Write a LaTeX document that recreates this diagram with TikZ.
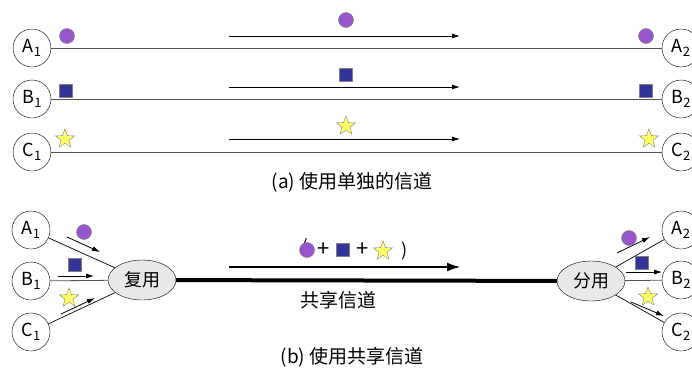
\documentclass[tikz,border=0pt]{standalone}
\usepackage{fontspec}
\setmainfont{Noto Sans CJK SC}
\usepackage{xcolor}
\definecolor{CPurple}{HTML}{9955CC}
\definecolor{CNavy}{HTML}{333399}
\definecolor{CYellow}{HTML}{FFFF66}
\definecolor{CLine}{HTML}{555555}
\definecolor{CMux}{HTML}{E8E8E8}
\usetikzlibrary{arrows.meta,positioning,shapes.geometric}
\newcommand{\stn}[2]{#1\raisebox{-0.45ex}{\fontsize{13}{13}\selectfont #2}}
\tikzstyle{stationNode}=[circle, draw, fill=white, thin, minimum size=38pt, inner sep=0pt,
  font=\fontsize{18}{18}\selectfont]
\tikzstyle{muxNode}=[ellipse, draw, fill=CMux, thin, minimum width=68pt, minimum height=40pt,
  inner sep=0pt, font=\fontsize{18}{18}\selectfont]
\tikzstyle{dotNode}=[circle, draw=gray, fill=CPurple, minimum size=15pt, inner sep=0pt]
\tikzstyle{boxNode}=[rectangle, draw=gray, fill=CNavy, minimum size=13pt, inner sep=0pt]
\tikzstyle{starNode}=[star, star points=5, star point ratio=2.4, draw=gray, fill=CYellow,
  minimum size=20pt, inner sep=0pt]
\tikzstyle{capNode}=[font=\fontsize{19}{19}\selectfont]
\tikzstyle{opNode}=[font=\fontsize{18}{18}\selectfont, inner sep=0pt]
\tikzstyle{chan}=[draw=CLine, line width=1pt]
\tikzstyle{arr}=[-{Latex[length=8pt,width=5pt]}, line width=0.8pt]
\tikzstyle{bigArr}=[-{Latex[length=14pt,width=9pt]}, line width=2.6pt]

\begin{document}
\begin{tikzpicture}[x=1pt, y=-1pt, node distance=13pt]
\useasboundingbox (0,0) rectangle (692,367);
% (a) separate channels
\node[stationNode] (a1) at (32,48) {\stn{A}{1}};
\node[stationNode] (b1) at (32,99) {\stn{B}{1}};
\node[stationNode] (c1) at (32,152) {\stn{C}{1}};
\node[stationNode] (a2) at (681,48) {\stn{A}{2}};
\node[stationNode] (b2) at (681,99) {\stn{B}{2}};
\node[stationNode] (c2) at (681,152) {\stn{C}{2}};
\draw[chan] (a1) -- (a2);
\draw[chan] (b1) -- (b2);
\draw[chan] (c1) -- (c2);
\node[dotNode] (dotL) at (67,36) {};
\node[boxNode] (boxL) at (65.5,90.5) {};
\node[starNode] (starL) at (65,139) {};
\node[dotNode] (dotR) at (646,36) {};
\node[boxNode] (boxR) at (645.5,90.5) {};
\node[starNode] (starR) at (649,139) {};
\node[dotNode] (dotM) at (346,20) {};
\node[boxNode] (boxM) at (346,75) {};
\node[starNode] (starM) at (346,126) {};
\coordinate (fa1) at (229,36);  \coordinate (fa2) at (460,36);
\coordinate (fb1) at (229,87);  \coordinate (fb2) at (460,87);
\coordinate (fc1) at (229,139); \coordinate (fc2) at (460,139);
\draw[arr] (fa1) -- (fa2);
\draw[arr] (fb1) -- (fb2);
\draw[arr] (fc1) -- (fc2);
\node[capNode] (capA) at (352,182) {(a) 使用单独的信道};
% (b) shared channel
\node[stationNode] (ma1) at (31,230) {\stn{A}{1}};
\node[stationNode] (mb1) at (31,281) {\stn{B}{1}};
\node[stationNode] (mc1) at (31,332) {\stn{C}{1}};
\node[stationNode] (ma2) at (681,230) {\stn{A}{2}};
\node[stationNode] (mb2) at (681,280) {\stn{B}{2}};
\node[stationNode] (mc2) at (681,332) {\stn{C}{2}};
\node[muxNode] (mux) at (142,280) {复用};
\node[muxNode] (demux) at (591,281) {分用};
\draw[line width=0.7pt] (ma1) -- (mux);
\draw[chan, line width=0.8pt] (mb1) -- (mux);
\draw[line width=0.7pt] (mc1) -- (mux);
\draw[line width=0.7pt] (demux) -- (ma2);
\draw[chan, line width=0.8pt] (demux) -- (mb2);
\draw[line width=0.7pt] (demux) -- (mc2);
\draw[line width=4pt] (mux) -- (demux);
% flows into the multiplexer
\coordinate (ia1) at (67,237); \coordinate (ia2) at (100,252);
\coordinate (ib1) at (58,276); \coordinate (ib2) at (94,276);
\coordinate (ic1) at (61,314); \coordinate (ic2) at (95,298);
\draw[arr] (ia1) -- (ia2);
\draw[arr] (ib1) -- (ib2);
\draw[arr] (ic1) -- (ic2);
\node[dotNode] (dotIn) at (84,232) {};
\node[boxNode] (boxIn) at (74.5,264.5) {};
\node[starNode] (starIn) at (69,298) {};
% flows out of the demultiplexer
\coordinate (oa1) at (617,253); \coordinate (oa2) at (650,237);
\coordinate (ob1) at (626,272); \coordinate (ob2) at (662,272);
\coordinate (oc1) at (631,302); \coordinate (oc2) at (664,316);
\draw[arr] (oa1) -- (oa2);
\draw[arr] (ob1) -- (ob2);
\draw[arr] (oc1) -- (oc2);
\node[dotNode] (dotOut) at (629,238) {};
\node[boxNode] (boxOut) at (642,263) {};
\node[starNode] (starOut) at (648,297) {};
% mixed signal
\node[opNode, font=\fontsize{16}{16}\selectfont] (lpar) at (305,247) {(};
\node[dotNode] (dotMix) at (307,250) {};
\node[opNode, font=\fontsize{22}{22}\selectfont] (plus1) at (324,250) {+};
\node[boxNode] (boxMix) at (343,250) {};
\node[opNode, font=\fontsize{22}{22}\selectfont] (plus2) at (363,250) {+};
\node[starNode] (starMix) at (383,251) {};
\node[opNode] (rpar) at (405,251) {)};
\coordinate (sm1) at (229,267); \coordinate (sm2) at (461,267);
\draw[bigArr] (sm1) -- (sm2);
\node[capNode] (shared) at (338,300) {共享信道};
\node[capNode] (capB) at (352,357) {(b) 使用共享信道};
\end{tikzpicture}
\end{document}
